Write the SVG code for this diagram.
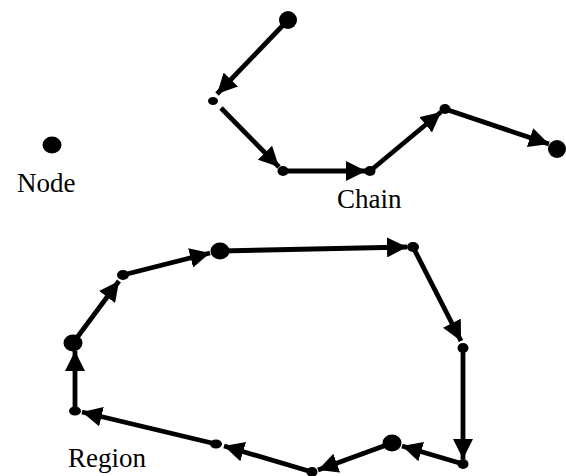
<svg xmlns="http://www.w3.org/2000/svg" width="566" height="476" viewBox="0 0 566 476">
  <style>
    .edge { stroke: #000; stroke-width: 4.8; fill: none; marker-end: url(#arrow); }
    .dot { fill: #000; }
    .label { font-family: "Liberation Serif", "Times New Roman", serif; font-size: 27px; fill: #000; }
  </style>
  <defs>
    <marker id="arrow" markerUnits="userSpaceOnUse" viewBox="0 0 20 20" refX="20" refY="10" markerWidth="20" markerHeight="20" orient="auto">
      <path d="M0,0 L20,10 L0,20 z" fill="#000"/>
    </marker>
  </defs>
  <rect width="566" height="476" fill="#fff"/>

  <!-- standalone node -->
  <g id="node">
    <ellipse class="dot" cx="52" cy="145" rx="9.5" ry="8.5"/>
    <text class="label" x="17" y="192">Node</text>
  </g>

  <!-- chain connectors -->
  <g id="chain-edges">
    <path class="edge" d="M288,20 L217,94"/>
    <path class="edge" d="M221,108 L279,167"/>
    <path class="edge" d="M283,171 L366,171"/>
    <path class="edge" d="M370,171 L441,112"/>
    <path class="edge" d="M445,109 L549,144"/>
  </g>

  <!-- chain nodes -->
  <g id="chain-n1"><circle class="dot" cx="288" cy="20" r="9"/></g>
  <g id="chain-n2"><ellipse class="dot" cx="213" cy="101" rx="5" ry="4"/></g>
  <g id="chain-n3"><ellipse class="dot" cx="283" cy="171" rx="5.5" ry="5"/></g>
  <g id="chain-n4"><ellipse class="dot" cx="370" cy="171" rx="5.5" ry="5"/></g>
  <g id="chain-n5"><ellipse class="dot" cx="445" cy="109" rx="5.5" ry="5"/></g>
  <g id="chain-n6"><circle class="dot" cx="557" cy="149" r="9"/></g>
  <text id="chain-label" class="label" x="337" y="208">Chain</text>

  <!-- region connectors (closed loop) -->
  <g id="region-edges">
    <path class="edge" d="M73,343 L119,281"/>
    <path class="edge" d="M123,275 L210,253"/>
    <path class="edge" d="M220,251 L407,247"/>
    <path class="edge" d="M413,247 L461,341"/>
    <path class="edge" d="M463,348 L463,459"/>
    <path class="edge" d="M463,464 L402,446"/>
    <path class="edge" d="M392,443 L318,470"/>
    <path class="edge" d="M312,472 L224,446"/>
    <path class="edge" d="M216,444 L82,412"/>
    <path class="edge" d="M75,411 L75,351"/>
  </g>

  <!-- region nodes -->
  <g id="region-r1"><ellipse class="dot" cx="73" cy="343" rx="9.5" ry="8.5"/></g>
  <g id="region-r2"><ellipse class="dot" cx="123" cy="275" rx="6" ry="5"/></g>
  <g id="region-r3"><ellipse class="dot" cx="220" cy="251" rx="9.5" ry="8.5"/></g>
  <g id="region-r4"><ellipse class="dot" cx="413" cy="247" rx="6" ry="5"/></g>
  <g id="region-r5"><ellipse class="dot" cx="463" cy="348" rx="5.5" ry="5"/></g>
  <g id="region-r6"><ellipse class="dot" cx="463" cy="464" rx="5.5" ry="5"/></g>
  <g id="region-r7"><ellipse class="dot" cx="392" cy="443" rx="9.5" ry="8.5"/></g>
  <g id="region-r8"><ellipse class="dot" cx="312" cy="472" rx="5.5" ry="5"/></g>
  <g id="region-r9"><ellipse class="dot" cx="216" cy="444" rx="6" ry="4.5"/></g>
  <g id="region-r10"><ellipse class="dot" cx="75" cy="411" rx="6" ry="4.5"/></g>
  <text id="region-label" class="label" x="68" y="467">Region</text>
</svg>
